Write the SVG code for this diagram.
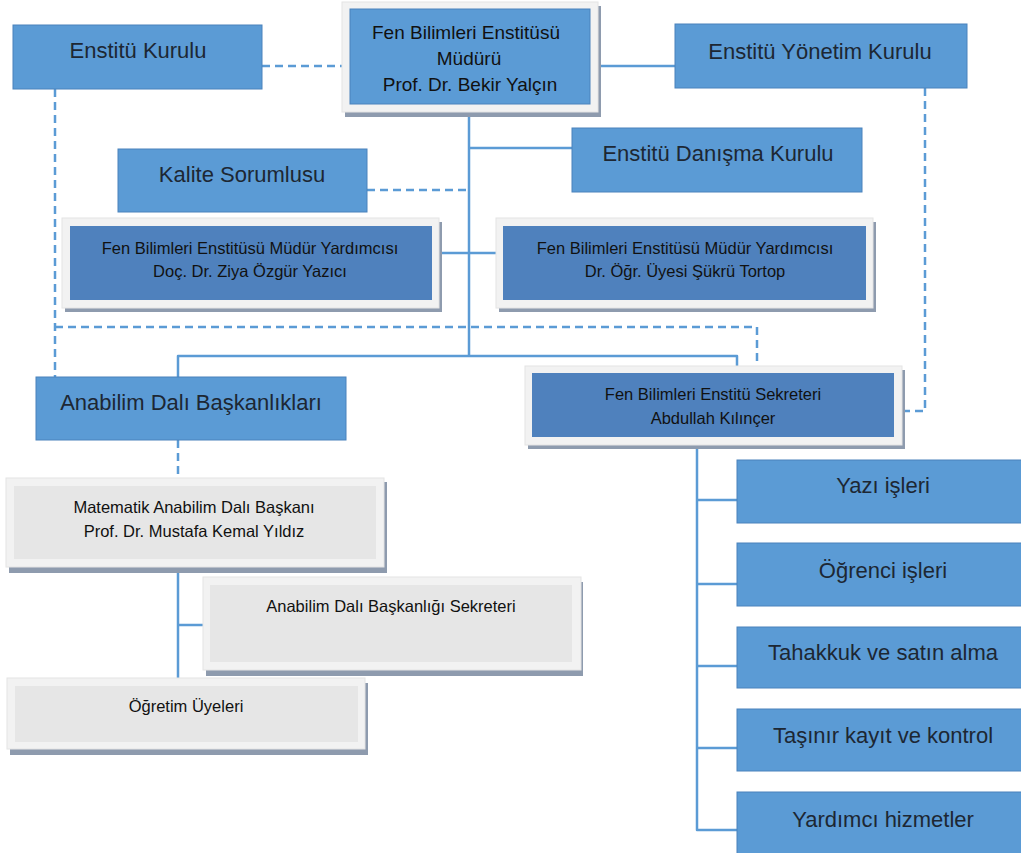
<svg xmlns="http://www.w3.org/2000/svg" width="1021" height="853" viewBox="0 0 1021 853">
<style>
.bx{fill:#5B9BD5;stroke:#4A82BC;stroke-width:1}
.dk{fill:#4F81BD}
.gr{fill:#E6E6E6}
.fr{fill:#F2F2F2;stroke:#E4E4E4;stroke-width:1}
.sh{fill:#8E9BAE}
.t{font-family:"Liberation Sans",Arial,sans-serif;text-anchor:middle;fill:#1D2733}
.t22{font-size:22px}
.t19{font-size:19px;fill:#111}
.t17{font-size:16.5px;fill:#111}
.ln{fill:none;stroke:#5B9BD5;stroke-width:2.5;stroke-linejoin:round}
.ds{stroke-dasharray:8 5}
</style>
<rect width="1021" height="853" fill="#fff"/>
<g id="connectors">
<path class="ln ds" d="M262,66 H342"/>
<path class="ln" d="M598,66 H675"/>
<path class="ln" d="M469,112 V356"/>
<path class="ln" d="M469,148 H572"/>
<path class="ln ds" d="M367,190 H469"/>
<path class="ln" d="M439,253 H496"/>
<path class="ln ds" d="M55,89 V377"/>
<path class="ln ds" d="M55,327 H757 V366"/>
<path class="ln" d="M178,377 V356 H737 V366"/>
<path class="ln ds" d="M925,88 V411 H903"/>
<path class="ln ds" d="M178,440 V478"/>
<path class="ln" d="M178,567 V678 M178,625 H203"/>
<path class="ln" d="M697,449 V830 H737 M697,500 H737 M697,584 H737 M697,666 H737 M697,748 H737"/>
</g>
<g id="enstitu-kurulu">
<rect class="bx" x="13" y="25" width="249" height="64"/>
<text class="t t22" x="138" y="58">Enstitü Kurulu</text>
</g>
<g id="mudur">
<rect class="sh" x="345" y="6" width="256" height="111"/>
<rect class="fr" x="342" y="2" width="256" height="110"/>
<rect class="bx" x="350" y="9" width="240" height="95" stroke="none"/>
<text class="t t19" x="466" y="39">Fen Bilimleri Enstitüsü</text>
<text class="t t19" x="469" y="65">Müdürü</text>
<text class="t t19" x="470" y="91">Prof. Dr. Bekir Yalçın</text>
</g>
<g id="yonetim-kurulu">
<rect class="bx" x="675" y="24" width="292" height="64"/>
<text class="t t22" x="820" y="59">Enstitü Yönetim Kurulu</text>
</g>
<g id="danisma-kurulu">
<rect class="bx" x="572" y="128" width="290" height="64"/>
<text class="t t22" x="718" y="161">Enstitü Danışma Kurulu</text>
</g>
<g id="kalite">
<rect class="bx" x="118" y="149" width="249" height="63"/>
<text class="t t22" x="242" y="182">Kalite Sorumlusu</text>
</g>
<g id="mudur-yrd-1">
<rect class="sh" x="65" y="222" width="377" height="90"/>
<rect class="fr" x="62" y="218" width="377" height="90"/>
<rect class="dk" x="70" y="226" width="362" height="74"/>
<text class="t t17" x="250" y="254">Fen Bilimleri Enstitüsü Müdür Yardımcısı</text>
<text class="t t17" x="250" y="277">Doç. Dr. Ziya Özgür Yazıcı</text>
</g>
<g id="mudur-yrd-2">
<rect class="sh" x="499" y="222" width="377" height="90"/>
<rect class="fr" x="496" y="218" width="377" height="90"/>
<rect class="dk" x="503" y="226" width="363" height="74"/>
<text class="t t17" x="685" y="254">Fen Bilimleri Enstitüsü Müdür Yardımcısı</text>
<text class="t t17" x="685" y="277">Dr. Öğr. Üyesi Şükrü Tortop</text>
</g>
<g id="anabilim-baskanliklari">
<rect class="bx" x="36" y="377" width="310" height="63"/>
<text class="t t22" x="191" y="410">Anabilim Dalı Başkanlıkları</text>
</g>
<g id="sekreter">
<rect class="sh" x="528" y="370" width="377" height="79"/>
<rect class="fr" x="525" y="366" width="377" height="79"/>
<rect class="dk" x="532" y="373" width="362" height="64"/>
<text class="t t17" x="713" y="400">Fen Bilimleri Enstitü Sekreteri</text>
<text class="t t17" x="713" y="424">Abdullah Kılınçer</text>
</g>
<g id="matematik">
<rect class="sh" x="9" y="482" width="378" height="91"/>
<rect class="fr" x="6" y="478" width="378" height="89"/>
<rect class="gr" x="14" y="486" width="362" height="73"/>
<text class="t t17" x="194" y="513">Matematik Anabilim Dalı Başkanı</text>
<text class="t t17" x="194" y="537">Prof. Dr. Mustafa Kemal Yıldız</text>
</g>
<g id="abd-sekreteri">
<rect class="sh" x="206" y="582" width="377" height="94"/>
<rect class="fr" x="203" y="577" width="378" height="93"/>
<rect class="gr" x="210" y="585" width="362" height="77"/>
<text class="t t17" x="391" y="612">Anabilim Dalı Başkanlığı Sekreteri</text>
</g>
<g id="ogretim-uyeleri">
<rect class="sh" x="10" y="683" width="358" height="72"/>
<rect class="fr" x="7" y="678" width="358" height="71"/>
<rect class="gr" x="15" y="686" width="343" height="56"/>
<text class="t t17" x="186" y="712">Öğretim Üyeleri</text>
</g>
<g id="yazi-isleri">
<rect class="bx" x="737" y="460" width="292" height="63"/>
<text class="t t22" x="883" y="493">Yazı işleri</text>
</g>
<g id="ogrenci-isleri">
<rect class="bx" x="737" y="543" width="292" height="63"/>
<text class="t t22" x="883" y="578">Öğrenci işleri</text>
</g>
<g id="tahakkuk">
<rect class="bx" x="737" y="627" width="292" height="61"/>
<text class="t t22" x="883" y="660">Tahakkuk ve satın alma</text>
</g>
<g id="tasinir">
<rect class="bx" x="737" y="709" width="292" height="62"/>
<text class="t t22" x="883" y="743">Taşınır kayıt ve kontrol</text>
</g>
<g id="yardimci">
<rect class="bx" x="737" y="792" width="292" height="70"/>
<text class="t t22" x="883" y="827">Yardımcı hizmetler</text>
</g>
</svg>
